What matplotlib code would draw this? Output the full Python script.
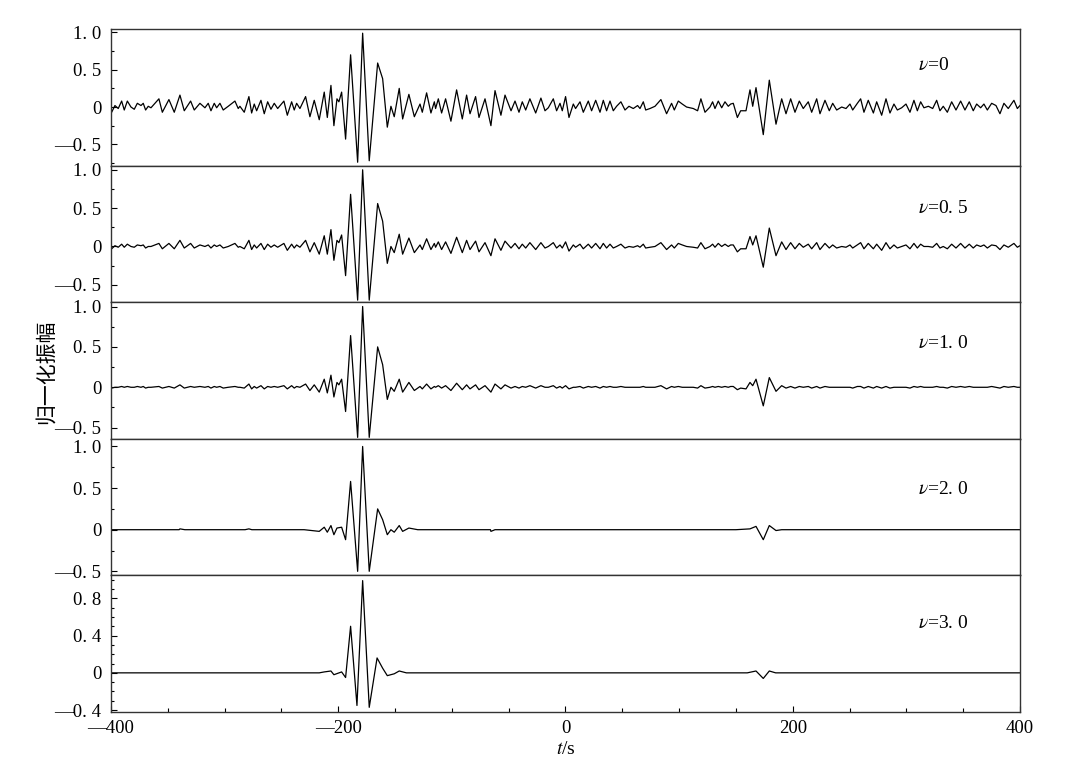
import matplotlib
matplotlib.use("Agg")
import matplotlib.pyplot as plt
from matplotlib.ticker import MultipleLocator, FixedLocator

# ---------------- data ----------------
# shared time samples (s) of the extrema for panels v=0, 0.5, 1.0
t_grid = [-400, -399.4, -396.5, -393.6, -390.6, -388.3, -385.6, -382.4, -379.5, -376.8, -373.6, -371.6,
          -369.5, -367.2, -364.8, -357.8, -354.8, -349.0, -344.3, -339.3, -335.5, -329.9, -326.7, -321.7,
          -317.3, -314.4, -312.0, -309.1, -307.0, -304.1, -301.2, -296.8, -290.9, -288.0, -286.5, -282.7,
          -278.6, -276.2, -273.9, -271.8, -268.0, -265.1, -262.1, -259.2, -256.3, -253.3, -247.8, -244.8,
          -241.0, -238.7, -236.6, -233.7, -228.7, -224.9, -221.1, -216.7, -212.3, -209.6, -206.4, -203.8,
          -201.1, -199.4, -197.0, -193.5, -189.1, -182.9, -178.5, -172.7, -165.3, -160.9, -156.8, -153.6,
          -150.7, -146.3, -143.3, -137.8, -133.0, -128.0, -126.0, -122.2, -118.4, -115.4, -114.3, -111.9,
          -109.0, -105.5, -100.8, -95.8, -90.8, -87.0, -84.0, -79.1, -76.1, -70.8, -65.6, -62.0,
          -56.8, -53.2, -47.9, -44.4, -40.9, -38.0, -35.0, -31.3, -26.2, -21.6, -18.0, -15.1,
          -10.7, -7.8, -4.8, -2.8, 0.1, 3.1, 6.9, 8.9, 12.8, 15.7, 20.1, 23.0,
          26.6, 30.4, 33.3, 36.2, 39.2, 42.1, 45.0, 48.8, 52.4, 55.9, 59.7, 63.5,
          65.6, 68.5, 70.6, 74.4, 78.8, 84.0, 89.0, 93.4, 95.8, 99.3, 102.8, 106.6,
          112.5, 116.3, 119.2, 122.8, 127.2, 129.5, 131.6, 134.5, 137.5, 140.4, 143.3, 145.4,
          147.7, 151.3, 154.2, 158.9, 162.4, 164.8, 167.7, 174.1, 179.4, 185.3, 190.3, 194.1,
          198.2, 202.0, 205.8, 209.3, 213.7, 216.7, 221.1, 224.0, 228.4, 232.2, 235.2, 238.7,
          243.1, 246.9, 250.4, 252.8, 256.9, 259.8, 262.7, 266.5, 271.0, 273.9, 278.3, 282.1,
          285.6, 289.1, 292.1, 295.9, 299.7, 303.2, 306.7, 309.7, 312.6, 315.5, 319.4, 323.2,
          326.7, 329.6, 332.5, 336.1, 339.9, 343.7, 347.8, 351.6, 355.4, 358.9, 361.9, 365.4,
          368.3, 371.3, 375.1, 378.9, 382.4, 385.9, 389.7, 394.7, 397.7, 400]
y_v0 = [-0.02, -0.07, 0.02, -0.02, 0.08, -0.04, 0.08, 0.0, -0.03, 0.05, 0.02, 0.05,
        -0.04, 0.01, -0.01, 0.11, -0.07, 0.10, -0.07, 0.16, -0.05, 0.08, -0.04, 0.05,
        -0.01, 0.05, -0.05, 0.05, -0.01, 0.05, -0.04, 0.01, 0.08, -0.02, 0.01, -0.07,
        0.14, -0.08, 0.04, -0.05, 0.09, -0.09, 0.07, -0.03, 0.05, -0.02, 0.08, -0.11,
        0.07, -0.04, 0.05, -0.02, 0.14, -0.13, 0.09, -0.17, 0.20, -0.14, 0.29, -0.25,
        0.11, 0.07, 0.20, -0.43, 0.70, -0.74, 0.99, -0.72, 0.59, 0.38, -0.27, 0.01,
        -0.13, 0.25, -0.16, 0.17, -0.13, 0.04, -0.07, 0.19, -0.08, 0.07, -0.02, 0.11,
        -0.08, 0.11, -0.19, 0.23, -0.16, 0.16, -0.09, 0.14, -0.14, 0.11, -0.25, 0.22,
        -0.11, 0.16, -0.05, 0.08, -0.07, 0.07, -0.04, 0.11, -0.08, 0.12, -0.05, -0.01,
        0.11, -0.05, 0.05, -0.05, 0.14, -0.14, 0.04, -0.02, 0.07, -0.07, 0.08, -0.05,
        0.09, -0.07, 0.09, -0.05, 0.08, -0.05, 0.01, 0.07, -0.04, 0.01, -0.02, 0.02,
        -0.02, 0.07, -0.04, -0.02, 0.01, 0.10, -0.09, 0.05, -0.04, 0.08, 0.04, 0.0,
        -0.02, -0.05, 0.11, -0.07, 0.0, 0.07, -0.02, 0.08, -0.01, 0.07, 0.01, 0.04,
        0.05, -0.14, -0.05, -0.05, 0.23, 0.01, 0.26, -0.37, 0.36, -0.23, 0.11, -0.09,
        0.11, -0.07, 0.08, -0.02, 0.07, -0.07, 0.11, -0.09, 0.09, -0.05, 0.05, -0.04,
        0.0, -0.02, 0.04, -0.04, 0.05, 0.11, -0.07, 0.09, -0.08, 0.07, -0.11, 0.11,
        -0.08, 0.04, -0.04, -0.01, 0.04, -0.07, 0.09, -0.05, 0.07, -0.01, 0.01, -0.02,
        0.09, -0.05, 0.01, -0.07, 0.07, -0.04, 0.08, -0.04, 0.07, -0.05, 0.04, -0.01,
        0.04, -0.04, 0.05, 0.02, -0.09, 0.05, -0.02, 0.09, -0.02, 0.02]
y_v05 = [0.0, -0.03, 0.01, -0.01, 0.03, -0.01, 0.03, 0.0, -0.01, 0.02, 0.01, 0.02,
         -0.02, 0.0, 0.0, 0.04, -0.03, 0.04, -0.03, 0.08, -0.02, 0.04, -0.02, 0.02,
         0.0, 0.02, -0.02, 0.02, 0.0, 0.02, -0.02, 0.0, 0.04, -0.01, 0.0, -0.03,
         0.08, -0.04, 0.02, -0.02, 0.04, -0.04, 0.03, -0.01, 0.02, -0.01, 0.04, -0.05,
         0.03, -0.02, 0.02, -0.01, 0.08, -0.07, 0.05, -0.10, 0.14, -0.10, 0.22, -0.18,
         0.08, 0.05, 0.15, -0.38, 0.68, -0.70, 1.0, -0.70, 0.56, 0.33, -0.22, 0.0,
         -0.08, 0.16, -0.10, 0.11, -0.08, 0.02, -0.04, 0.10, -0.04, 0.04, -0.01, 0.06,
         -0.04, 0.06, -0.09, 0.12, -0.08, 0.08, -0.04, 0.07, -0.07, 0.05, -0.12, 0.10,
         -0.05, 0.07, -0.02, 0.04, -0.03, 0.03, -0.02, 0.05, -0.04, 0.05, -0.02, 0.0,
         0.05, -0.02, 0.02, -0.02, 0.06, -0.06, 0.02, -0.01, 0.03, -0.03, 0.03, -0.02,
         0.04, -0.03, 0.04, -0.02, 0.03, -0.02, 0.0, 0.03, -0.02, 0.0, -0.01, 0.01,
         -0.01, 0.03, -0.02, -0.01, 0.0, 0.05, -0.04, 0.02, -0.02, 0.04, 0.02, 0.0,
         -0.01, -0.02, 0.05, -0.03, 0.0, 0.03, -0.01, 0.04, 0.0, 0.03, 0.0, 0.02,
         0.02, -0.07, -0.03, -0.03, 0.13, 0.02, 0.14, -0.27, 0.24, -0.12, 0.06, -0.04,
         0.05, -0.03, 0.04, -0.01, 0.03, -0.03, 0.05, -0.04, 0.04, -0.02, 0.02, -0.02,
         0.0, -0.01, 0.02, -0.02, 0.02, 0.05, -0.03, 0.04, -0.03, 0.03, -0.05, 0.05,
         -0.03, 0.02, -0.02, 0.0, 0.02, -0.03, 0.04, -0.02, 0.03, 0.0, 0.0, -0.01,
         0.04, -0.02, 0.0, -0.03, 0.03, -0.02, 0.04, -0.02, 0.03, -0.02, 0.02, 0.0,
         0.02, -0.02, 0.02, 0.01, -0.04, 0.02, -0.01, 0.04, -0.01, 0.01]
y_v10 = [0.0, -0.01, 0.0, 0.0, 0.01, 0.0, 0.01, 0.0, 0.0, 0.01, 0.0, 0.01,
         -0.01, 0.0, 0.0, 0.01, -0.01, 0.01, -0.01, 0.03, -0.01, 0.01, 0.0, 0.01,
         0.0, 0.01, -0.01, 0.01, 0.0, 0.01, -0.01, 0.0, 0.01, 0.0, 0.0, -0.01,
         0.04, -0.02, 0.01, -0.01, 0.02, -0.02, 0.01, 0.0, 0.01, 0.0, 0.02, -0.02,
         0.02, -0.01, 0.01, 0.0, 0.04, -0.04, 0.03, -0.06, 0.10, -0.07, 0.15, -0.12,
         0.06, 0.03, 0.10, -0.30, 0.64, -0.62, 1.0, -0.62, 0.50, 0.28, -0.15, 0.0,
         -0.05, 0.10, -0.06, 0.06, -0.04, 0.01, -0.02, 0.04, -0.02, 0.01, 0.0, 0.02,
         -0.01, 0.02, -0.04, 0.05, -0.03, 0.03, -0.02, 0.03, -0.03, 0.02, -0.06, 0.04,
         -0.02, 0.03, -0.01, 0.01, -0.01, 0.01, 0.0, 0.02, -0.01, 0.02, 0.0, 0.0,
         0.02, -0.01, 0.01, -0.01, 0.02, -0.02, 0.0, 0.0, 0.01, -0.01, 0.01, 0.0,
         0.01, -0.01, 0.01, 0.0, 0.01, 0.0, 0.0, 0.01, 0.0, 0.0, 0.0, 0.0,
         0.0, 0.01, 0.0, 0.0, 0.0, 0.02, -0.02, 0.01, 0.0, 0.01, 0.0, 0.0,
         0.0, -0.01, 0.02, -0.01, 0.0, 0.01, 0.0, 0.01, 0.0, 0.01, 0.0, 0.01,
         0.01, -0.03, -0.01, -0.02, 0.06, 0.02, 0.10, -0.23, 0.12, -0.05, 0.02, -0.01,
         0.01, -0.01, 0.01, 0.0, 0.01, -0.01, 0.01, -0.01, 0.01, 0.0, 0.0, 0.0,
         0.0, 0.0, 0.0, -0.01, 0.01, 0.01, -0.01, 0.01, -0.01, 0.01, -0.01, 0.01,
         -0.01, 0.0, 0.0, 0.0, 0.0, -0.01, 0.01, 0.0, 0.01, 0.0, 0.0, 0.0,
         0.01, 0.0, 0.0, -0.01, 0.01, 0.0, 0.01, 0.0, 0.01, 0.0, 0.0, 0.0,
         0.0, 0.0, 0.01, 0.0, -0.01, 0.01, 0.0, 0.01, 0.0, 0.0]

t_v20 = [-400, -340, -339.3, -335, -282, -278.6, -276, -230, -216.7, -212.3,
         -209.6, -206.4, -203.8, -201.1, -197.0, -193.5, -189.1, -182.9, -178.5, -172.7,
         -165.3, -160.9, -156.8, -153.6, -150.7, -146.3, -143.3, -137.8, -130, -66,
         -65.6, -62, 150, 162.4, 167.7, 174.1, 179.4, 185.3, 190.3, 200, 400]
y_v20 = [0.0, 0.0, 0.01, 0.0, 0.0, 0.01, 0.0, 0.0, -0.02, 0.03,
         -0.03, 0.05, -0.06, 0.02, 0.03, -0.12, 0.58, -0.50, 1.0, -0.50,
         0.25, 0.12, -0.06, 0.0, -0.03, 0.05, -0.02, 0.02, 0.0, 0.0,
         -0.02, 0.0, 0.0, 0.01, 0.04, -0.12, 0.05, -0.01, 0.0, 0.0, 0.0]

t_v30 = [-400, -216.7, -212.3, -206.4, -203.8, -197.0, -193.5, -189.1, -183.5, -178.5,
         -172.7, -165.8, -160.9, -156.8, -150.7, -146.3, -140, 160, 167.7, 174.1,
         179.4, 185, 400]
y_v30 = [0.0, 0.0, 0.01, 0.02, -0.02, 0.01, -0.05, 0.50, -0.35, 0.99,
         -0.37, 0.16, 0.05, -0.03, -0.01, 0.02, 0.0, 0.0, 0.02, -0.06,
         0.02, 0.0, 0.0]

panel_labels = [r"$\nu$=0", r"$\nu$=0. 5", r"$\nu$=1. 0", r"$\nu$=2. 0", r"$\nu$=3. 0"]
x_ticks = [-400, -200, 0, 200, 400]
x_tick_labels = ["—400", "—200", "0", "200", "400"]
ylims = [(-0.79, 1.04), (-0.73, 1.05), (-0.64, 1.05), (-0.55, 1.09), (-0.42, 1.045)]
y_ticks = [[-0.5, 0, 0.5, 1.0]] * 4 + [[-0.4, 0, 0.4, 0.8]]
y_tick_labels = [["—0. 5", "0", "0. 5", "1. 0"]] * 4 + [["—0. 4", "0", "0. 4", "0. 8"]]
y_minor = [0.25] * 4 + [0.1]
label_y = [0.735, 0.69, 0.70, 0.63, 0.65]
xlabel = "t/s"
ylabel = "归一化振幅"

series = [(t_grid, y_v0), (t_grid, y_v05), (t_grid, y_v10), (t_v20, y_v20), (t_v30, y_v30)]

# ---------------- plot ----------------
plt.rcParams['mathtext.fontset'] = 'stix'
serif = ['Liberation Serif', 'DejaVu Serif']

fig = plt.figure(figsize=(10.66, 7.75), dpi=100)
gs = fig.add_gridspec(5, 1, left=0.1041, right=0.9568, top=0.962, bottom=0.0813, hspace=0)
axes = [fig.add_subplot(gs[i]) for i in range(5)]

for i, ax in enumerate(axes):
    t, y = series[i]
    ax.plot(t, y, color='black', lw=0.9)
    ax.set_xlim(-400, 400)
    ax.set_ylim(*ylims[i])
    ax.yaxis.set_major_locator(FixedLocator(y_ticks[i]))
    ax.set_yticklabels(y_tick_labels[i], fontfamily=serif, fontsize=13.5)
    ax.yaxis.set_minor_locator(MultipleLocator(y_minor[i]))
    ax.tick_params(axis='y', which='both', direction='in', left=True, right=False, pad=7)
    ax.tick_params(axis='y', which='major', length=4, width=0.8)
    ax.tick_params(axis='y', which='minor', length=2.5, width=0.8)
    for s in ax.spines.values():
        s.set_linewidth(1.0)
        s.set_color('#333333')
    ax.text(0.888, label_y[i], panel_labels[i], transform=ax.transAxes,
            fontsize=14, fontfamily=serif, ha='left', va='center')
    if i < 4:
        ax.tick_params(axis='x', which='both', bottom=False, labelbottom=False)
    else:
        ax.set_xticks(x_ticks)
        ax.set_xticklabels(x_tick_labels, fontfamily=serif, fontsize=13.5)
        ax.xaxis.set_minor_locator(MultipleLocator(50))
        ax.tick_params(axis='x', which='both', direction='in', top=False, pad=6)
        ax.tick_params(axis='x', which='major', length=4, width=0.8)
        ax.tick_params(axis='x', which='minor', length=3, width=0.8)
        ax.set_xlabel(r"$t$/s", fontsize=14, fontfamily=serif, labelpad=3)

fig.text(0.043, 0.52, ylabel, rotation=90, ha='center', va='center',
         fontsize=15, fontfamily=['Noto Sans CJK SC', 'DejaVu Sans'])

fig.savefig("out.png", dpi=100)
